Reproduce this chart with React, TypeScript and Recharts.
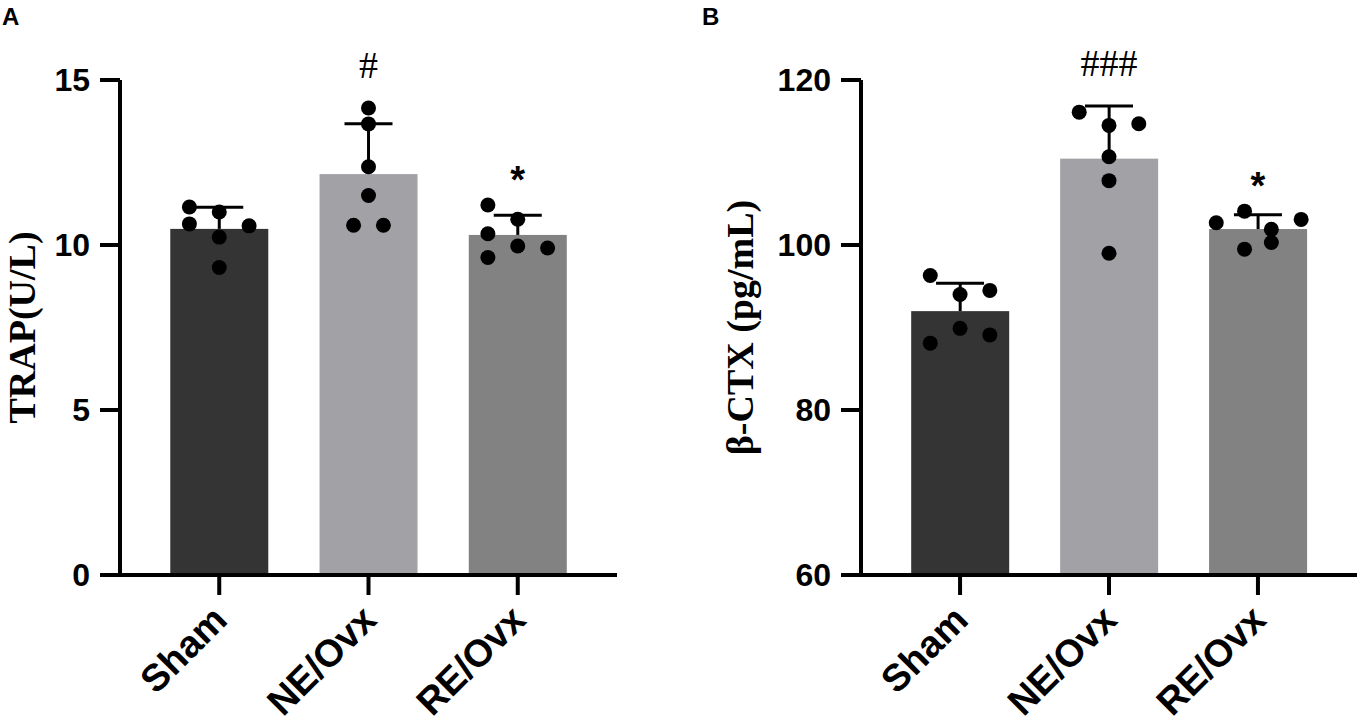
import React from 'react';
import { ComposedChart, Bar, Cell, ErrorBar, Scatter, XAxis, YAxis } from 'recharts';

const groups = ['Sham', 'NE/Ovx', 'RE/Ovx'];
const barColors = ['#343434', '#a2a1a6', '#828282'];

// TRAP (U/L), one value per animal
const trapSham = [11.15, 11.0, 10.64, 10.58, 10.24, 9.32];
const trapNe = [14.15, 13.67, 12.37, 11.5, 10.6, 10.6];
const trapRe = [11.21, 10.78, 10.34, 9.97, 9.91, 9.62];
// sideways spread of each dot, in category widths
const trapJitter = [
  [-0.2, 0, -0.2, 0.2, 0, 0],
  [0, 0, 0, 0, -0.1, 0.1],
  [-0.2, 0, -0.2, 0, 0.2, -0.2],
];
const trapMarks = ['', '#', '*'];
const trapTicks = [0, 5, 10, 15];

// beta-CTX (pg/mL)
const ctxSham = [96.3, 94.0, 94.5, 89.9, 89.1, 88.1];
const ctxNe = [116.1, 114.5, 114.7, 110.7, 107.8, 99.0];
const ctxRe = [104.1, 102.7, 103.1, 101.9, 99.5, 100.3];
const ctxJitter = [
  [-0.2, 0, 0.2, 0, 0.2, -0.2],
  [-0.2, 0, 0.2, 0, 0, 0],
  [-0.09, -0.28, 0.29, 0.09, -0.09, 0.09],
];
const ctxMarks = ['', '###', '*'];
const ctxTicks = [60, 80, 100, 120];

const SANS = '"Liberation Sans", Arial, sans-serif';
const SERIF = '"Liberation Serif", "Times New Roman", serif';
const BAR_WIDTH = 98;

const markStyle: Record<string, { font: string; size: number; weight: string; gap: number }> = {
  '#': { font: SERIF, size: 38, weight: 'normal', gap: 30 },
  '*': { font: SANS, size: 38, weight: 'bold', gap: 12 },
};

function mean(v: number[]) {
  return v.reduce((a, b) => a + b, 0) / v.length;
}

function sd(v: number[]) {
  const m = mean(v);
  return Math.sqrt(v.reduce((a, b) => a + (b - m) ** 2, 0) / (v.length - 1));
}

const CatTick = (props: any) => {
  const { x, y, payload } = props;
  const tx = x + 10;
  const ty = y + 27;
  return (
    <text
      x={tx}
      y={ty}
      transform={`rotate(-45, ${tx}, ${ty})`}
      textAnchor="end"
      fontFamily={SANS}
      fontWeight="bold"
      fontSize={38}
      fill="#000"
    >
      {groups[payload.value]}
    </text>
  );
};

const AxisTitle = (props: any) => {
  const vb = props.viewBox ?? { x: 0, y: 80, width: 120, height: 495 };
  const tx = vb.x + vb.width - props.inset;
  const ty = vb.y + vb.height / 2;
  return (
    <text
      x={tx}
      y={ty}
      transform={`rotate(-90, ${tx}, ${ty})`}
      textAnchor="middle"
      fontFamily={SERIF}
      fontWeight="bold"
      fontSize={38}
      fill="#000"
    >
      {props.text}
    </text>
  );
};

// numeric x axis gives Recharts no band, so the bar is drawn at a fixed width round its centre
const BarShape = (p: any) => {
  const cx = p.x + p.width / 2;
  return <rect x={cx - BAR_WIDTH / 2} y={p.y} width={BAR_WIDTH} height={p.height} fill={p.fill} />;
};

const Dot = (p: any) => <circle cx={p.cx} cy={p.cy} r={7.5} fill="#000" />;

const Cap = (p: any) => (
  <line x1={p.cx - 24} x2={p.cx + 24} y1={p.cy} y2={p.cy} stroke="#000" strokeWidth={3} />
);

const Mark = (p: any) => {
  const text: string = p.payload.text;
  const s = markStyle[text[0]];
  return (
    <text
      x={p.cx}
      y={p.cy - s.gap}
      textAnchor="middle"
      fontFamily={s.font}
      fontWeight={s.weight}
      fontSize={s.size}
      fill="#000"
    >
      {text}
    </text>
  );
};

function Panel({
  values,
  jitter,
  marks,
  ticks,
  title,
  titleInset,
  axisWidth,
  width,
  marginRight,
}: {
  values: number[][];
  jitter: number[][];
  marks: string[];
  ticks: number[];
  title: string;
  titleInset: number;
  axisWidth: number;
  width: number;
  marginRight: number;
}) {
  const bars = values.map((v, i) => ({ x: i, mean: mean(v), err: [0, sd(v)] }));
  const caps = bars.map((b) => ({ x: b.x, y: b.mean + b.err[1] }));
  const dots = values.flatMap((v, i) => v.map((y, j) => ({ x: i + jitter[i][j], y })));
  const marksData = values
    .map((v, i) => ({ x: i, y: Math.max(caps[i].y, ...v), text: marks[i] }))
    .filter((m) => m.text);
  const axisStroke = { stroke: '#000', strokeWidth: 4 };

  return (
    <ComposedChart
      width={width}
      height={722}
      data={bars}
      margin={{ top: 80, right: marginRight, bottom: 47, left: 0 }}
    >
      <XAxis
        dataKey="x"
        type="number"
        domain={[-0.665, 2.665]}
        ticks={groups.map((_, i) => i)}
        interval={0}
        height={100}
        tickSize={20}
        tickMargin={0}
        tick={<CatTick />}
        tickLine={axisStroke}
        axisLine={axisStroke}
      />
      <YAxis
        type="number"
        domain={[ticks[0], ticks[ticks.length - 1]]}
        ticks={ticks}
        interval={0}
        width={axisWidth}
        tickSize={20}
        tickMargin={10}
        tick={{ fill: '#000', fontSize: 32, fontFamily: SANS, fontWeight: 'bold' }}
        tickLine={axisStroke}
        axisLine={axisStroke}
        label={<AxisTitle text={title} inset={titleInset} />}
      />
      <Bar dataKey="mean" shape={BarShape} isAnimationActive={false}>
        {bars.map((b, i) => (
          <Cell key={b.x} fill={barColors[i]} />
        ))}
        <ErrorBar dataKey="err" direction="y" width={0} stroke="#000" strokeWidth={3} />
      </Bar>
      <Scatter data={caps} dataKey="y" shape={Cap} isAnimationActive={false} />
      <Scatter data={dots} dataKey="y" shape={Dot} isAnimationActive={false} />
      <Scatter data={marksData} dataKey="y" shape={Mark} isAnimationActive={false} />
    </ComposedChart>
  );
}

const letterStyle: React.CSSProperties = {
  position: 'absolute',
  top: 5,
  fontFamily: SANS,
  fontWeight: 'bold',
  fontSize: 24,
  lineHeight: '24px',
};

export default function App() {
  return (
    <div
      style={{
        position: 'absolute',
        left: 0,
        top: 0,
        width: 1358,
        height: 722,
        background: '#fff',
        overflow: 'hidden',
      }}
    >
      <div style={{ position: 'absolute', left: 0, top: 0 }}>
        <Panel
          values={[trapSham, trapNe, trapRe]}
          jitter={trapJitter}
          marks={trapMarks}
          ticks={trapTicks}
          title="TRAP(U/L)"
          titleInset={85}
          axisWidth={120}
          width={680}
          marginRight={63}
        />
      </div>
      <div style={{ position: 'absolute', left: 680, top: 0 }}>
        <Panel
          values={[ctxSham, ctxNe, ctxRe]}
          jitter={ctxJitter}
          marks={ctxMarks}
          ticks={ctxTicks}
          title="β-CTX (pg/mL)"
          titleInset={108}
          axisWidth={181}
          width={678}
          marginRight={1}
        />
      </div>
      <div style={{ ...letterStyle, left: 2 }}>A</div>
      <div style={{ ...letterStyle, left: 702 }}>B</div>
    </div>
  );
}
